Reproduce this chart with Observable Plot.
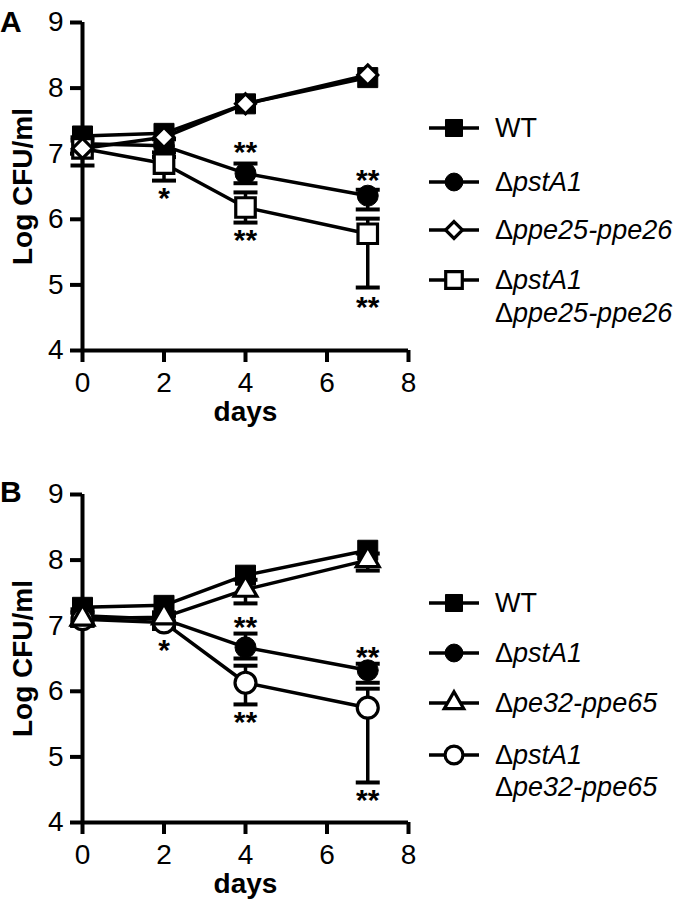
<!DOCTYPE html>
<html><head><meta charset="utf-8">
<script src="https://cdn.jsdelivr.net/npm/d3@7"></script>
<script src="https://cdn.jsdelivr.net/npm/@observablehq/plot@0.6"></script>
<style>
body{margin:0;background:#fff;font-family:"Liberation Sans",Arial,sans-serif;color:#000;}
#fig{position:relative;width:700px;height:909px;overflow:hidden;}
.panel{position:absolute;left:0;}
.letter{position:absolute;left:0;font-weight:bold;font-size:30px;line-height:30px;height:30px;}
.row{position:absolute;left:429px;height:34px;display:flex;align-items:center;white-space:nowrap;font-size:27px;line-height:34px;}
.row svg{flex:none;}
.row .lab{margin-left:16px;}
.lab i{font-style:italic;}
.line2{position:absolute;left:495px;height:34px;line-height:34px;font-size:27px;white-space:nowrap;}
</style>
</head><body>
<div id="fig"></div>
<script>
// ---------- data ----------
const days = [0, 2, 4, 7];
const xTicks = [0, 2, 4, 6, 8];
const yTicks = [4, 5, 6, 7, 8, 9];

// Panel A
const wtA = [7.27, 7.31, 7.76, 8.16];
const pstA1A = [7.15, 7.12, 6.70, 6.36];
const pstA1A_lo = [7.05, 7.02, 6.55, 6.15];
const pstA1A_hi = [7.25, 7.22, 6.85, 6.45];
const ppeA = [7.08, 7.25, 7.76, 8.20];
const dblA = [7.08, 6.85, 6.18, 5.78];
const dblA_lo = [6.82, 6.59, 5.95, 4.96];
const dblA_hi = [7.20, 6.95, 6.41, 6.01];
const starDaysA = [2, 4, 4, 7, 7];
const starYA = [6.39, 7.09, 5.75, 6.67, 4.73];
const starTextA = ["*", "**", "**", "**", "**"];

// Panel B
const wtB = [7.28, 7.31, 7.77, 8.15];
const pstA1B = [7.15, 7.10, 6.67, 6.32];
const pstA1B_lo = [7.05, 7.00, 6.50, 6.13];
const pstA1B_hi = [7.25, 7.20, 6.88, 6.42];
const peB = [7.11, 7.13, 7.55, 8.00];
const peB_lo = [7.00, 7.05, 7.34, 7.84];
const peB_hi = [7.20, 7.20, 7.70, 8.10];
const dblB = [7.10, 7.05, 6.13, 5.75];
const dblB_lo = [7.00, 6.95, 5.80, 4.61];
const dblB_hi = [7.20, 7.15, 6.39, 6.04];
const starDaysB = [2, 4, 4, 7, 7];
const starYB = [6.70, 7.05, 5.60, 6.59, 4.41];
const starTextB = ["*", "**", "**", "**", "**"];

// legend labels: [prefix, italic part] (WT is upright)
const legendA = [["WT", ""], ["Δ", "pstA1"], ["Δ", "ppe25-ppe26"], ["Δ", "pstA1", "Δ", "ppe25-ppe26"]];
const legendB = [["WT", ""], ["Δ", "pstA1"], ["Δ", "pe32-ppe65"], ["Δ", "pstA1", "Δ", "pe32-ppe65"]];

// ---------- drawing ----------
const capSymbol = {draw(ctx, size) { const w = Math.sqrt(size / Math.PI); ctx.moveTo(-w, 0); ctx.lineTo(w, 0); }};

function rowsOf(vals, lo, hi) {
  return days.map((d, i) => ({day: d, v: vals[i], lo: lo ? lo[i] : null, hi: hi ? hi[i] : null}));
}

function seriesMarks(s) {
  const rows = rowsOf(s.vals, s.lo, s.hi);
  const m = [Plot.line(rows, {x: "day", y: "v", stroke: "black", strokeWidth: 3.5})];
  if (s.lo) {
    m.push(Plot.ruleX(rows, {x: "day", y1: "lo", y2: "hi", stroke: "black", strokeWidth: 3.5}));
    m.push(Plot.dot(rows, {x: "day", y: "lo", symbol: capSymbol, r: 12, stroke: "black", strokeWidth: 4}));
    m.push(Plot.dot(rows, {x: "day", y: "hi", symbol: capSymbol, r: 12, stroke: "black", strokeWidth: 4}));
  }
  return m;
}
function seriesDots(s) {
  const rows = rowsOf(s.vals);
  return Plot.dot(rows, {x: "day", y: "v", symbol: s.sym, r: s.r, fill: s.fill, stroke: "black", strokeWidth: s.sw});
}

function makePanel(series, starDays, starY, starText, height, marginBottom) {
  const stars = starDays.map((d, i) => ({day: d, y: starY[i], t: starText[i]}));
  const marks = [];
  series.forEach(s => marks.push(...seriesMarks(s)));
  series.forEach(s => marks.push(seriesDots(s)));
  return Plot.plot({
    width: 420, height,
    marginLeft: 82, marginRight: 12, marginTop: 22, marginBottom,
    style: {fontFamily: '"Liberation Sans", Arial, sans-serif', background: "white", color: "black"},
    x: {domain: [0, 8]},
    y: {domain: [4, 9]},
    marks: [
      Plot.ruleX([0], {stroke: "black", strokeWidth: 4}),
      Plot.ruleY([4], {stroke: "black", strokeWidth: 4}),
      Plot.axisY({ticks: yTicks, tickSize: 12, tickPadding: 7, fontSize: 28, strokeWidth: 4, label: null, tickFormat: d => d}),
      Plot.axisX({ticks: xTicks, tickSize: 12, tickPadding: 10, fontSize: 28, strokeWidth: 4, label: null, tickFormat: d => d}),
      Plot.text(["Log CFU/ml"], {frameAnchor: "left", rotate: -90, dx: -59, textAnchor: "middle", lineAnchor: "middle", fontSize: 28, fontWeight: "bold"}),
      Plot.text(["days"], {frameAnchor: "bottom", dy: 62, textAnchor: "middle", lineAnchor: "middle", fontSize: 28, fontWeight: "bold"}),
      ...marks,
      Plot.text(stars, {x: "day", y: "y", text: "t", fontSize: 30, fontWeight: "bold", dy: 5, fill: "black"})
    ]
  });
}

const seriesA = [
  {vals: wtA, sym: "square", r: 11.3, fill: "black", sw: 1},
  {vals: pstA1A, lo: pstA1A_lo, hi: pstA1A_hi, sym: "circle", r: 10.5, fill: "black", sw: 1},
  {vals: dblA, lo: dblA_lo, hi: dblA_hi, sym: "square", r: 11, fill: "white", sw: 3.2},
  {vals: ppeA, sym: "diamond2", r: 9, fill: "white", sw: 3.2}
];
const seriesB = [
  {vals: wtB, sym: "square", r: 11.3, fill: "black", sw: 1},
  {vals: pstA1B, lo: pstA1B_lo, hi: pstA1B_hi, sym: "circle", r: 10.5, fill: "black", sw: 1},
  {vals: dblB, lo: dblB_lo, hi: dblB_hi, sym: "circle", r: 10.5, fill: "white", sw: 3.2},
  {vals: peB, lo: peB_lo, hi: peB_hi, sym: "triangle", r: 8.5, fill: "white", sw: 3.2}
];

const fig = document.getElementById("fig");
function place(el, top) { const d = document.createElement("div"); d.className = "panel"; d.style.top = top + "px"; d.appendChild(el); fig.appendChild(d); }
place(makePanel(seriesA, starDaysA, starYA, starTextA, 455, 105), 0);
place(makePanel(seriesB, starDaysB, starYB, starTextB, 437, 87), 472);

function letter(t, cy) { const d = document.createElement("div"); d.className = "letter"; d.textContent = t; d.style.top = (cy - 15) + "px"; fig.appendChild(d); }
letter("A", 22);
letter("B", 492);

// legend symbol (small svg drawn with d3 symbols)
const symMap = {square: d3.symbolSquare, circle: d3.symbolCircle, diamond2: d3.symbolDiamond2, triangle: d3.symbolTriangle};
function legendSymbol(s) {
  const svg = d3.create("svg").attr("width", 50).attr("height", 34);
  svg.append("line").attr("x1", 0).attr("x2", 50).attr("y1", 17).attr("y2", 17).attr("stroke", "black").attr("stroke-width", 3.5);
  const size = Math.PI * (s.r * 0.85) ** 2;
  svg.append("path").attr("transform", "translate(25,17)").attr("d", d3.symbol(symMap[s.sym], size)())
    .attr("fill", s.fill).attr("stroke", "black").attr("stroke-width", s.sw);
  return svg.node();
}
function labelHTML(parts) {
  return `${parts[0]}<i>${parts[1]}</i>`;
}
function legend(series, labels, ys, y2) {
  // legend order: WT, pstA1, single mutant, double mutant
  const order = [0, 1, 3, 2];
  order.forEach((si, k) => {
    const row = document.createElement("div");
    row.className = "row";
    row.style.top = (ys[k] - 17) + "px";
    row.appendChild(legendSymbol(series[si]));
    const lab = document.createElement("span");
    lab.className = "lab";
    lab.innerHTML = labelHTML(labels[k]);
    row.appendChild(lab);
    fig.appendChild(row);
  });
  const l2 = document.createElement("div");
  l2.className = "line2";
  l2.style.top = (y2 - 17) + "px";
  l2.innerHTML = labelHTML(labels[3].slice(2));
  fig.appendChild(l2);
}
legend(seriesA, legendA, [128, 182, 230, 280], 313);
legend(seriesB, legendB, [603, 653, 703, 755], 787);
</script>
</body></html>
